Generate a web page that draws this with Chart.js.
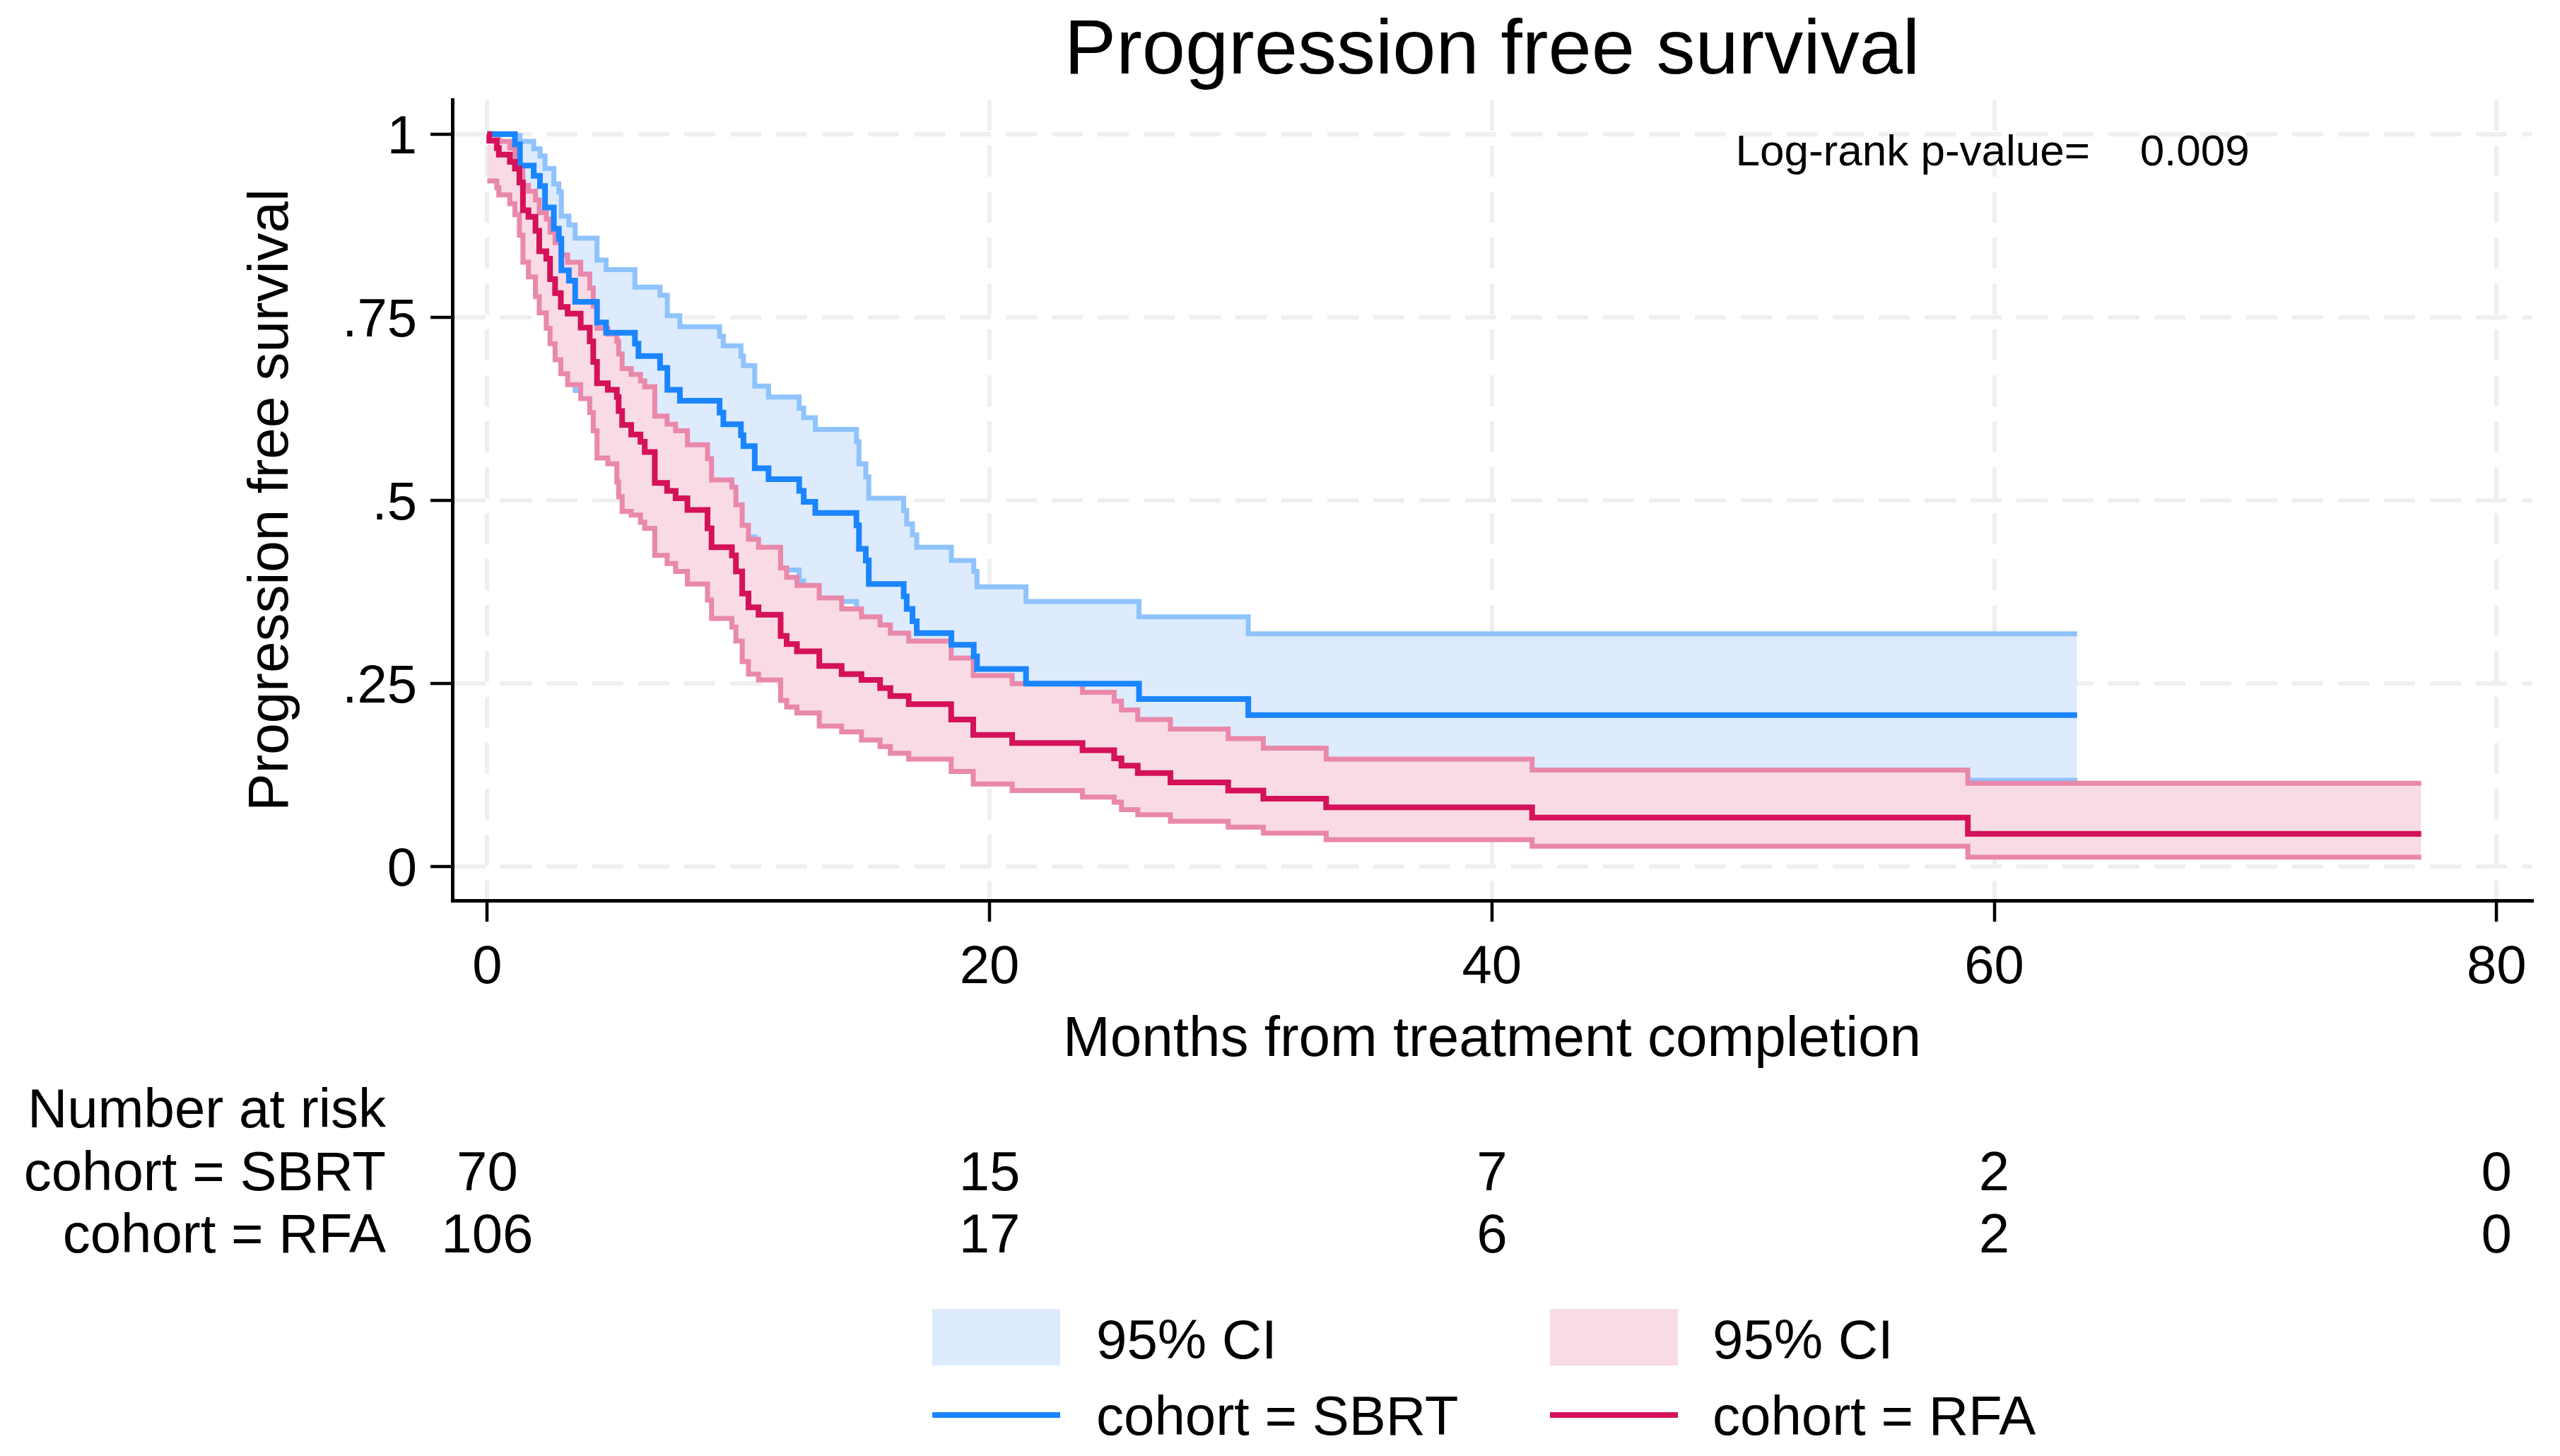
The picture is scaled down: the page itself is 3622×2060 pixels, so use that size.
<!DOCTYPE html>
<html>
<head>
<meta charset="utf-8">
<script src="https://cdn.jsdelivr.net/npm/chart.js@4.4.0/dist/chart.umd.min.js"></script>
<style>
html,body{margin:0;padding:0;background:#ffffff;}
#c{display:block;}
</style>
</head>
<body>
<canvas id="c" width="3622" height="2060" style="width:3622px;height:2060px"></canvas>
<script>
// ---------------- data ----------------
const sbrtTimes = [0, 1.1, 1.3, 1.85, 2.1, 2.3, 2.65, 2.85, 2.95, 3.25, 3.5, 4.37, 4.73, 5.88, 6.02, 6.88, 7.17, 7.67, 9.25, 9.4, 10.1, 10.2, 10.65, 11.2, 12.42, 12.6, 13.06, 14.7, 14.8, 15.07, 15.19, 16.58, 16.7, 16.93, 17.1, 18.48, 19.37, 19.5, 21.45, 25.95, 30.3, 63.3];
const sbrtSurv  = [1, 0.986, 0.957, 0.943, 0.929, 0.900, 0.871, 0.857, 0.814, 0.800, 0.771, 0.743, 0.729, 0.714, 0.697, 0.681, 0.651, 0.636, 0.620, 0.604, 0.589, 0.574, 0.544, 0.529, 0.513, 0.498, 0.483, 0.466, 0.434, 0.418, 0.386, 0.369, 0.352, 0.335, 0.319, 0.303, 0.287, 0.270, 0.250, 0.229, 0.207, 0.207];
const sbrtUpper = [1, 0.998, 0.990, 0.980, 0.970, 0.953, 0.932, 0.921, 0.888, 0.876, 0.858, 0.828, 0.815, 0.791, 0.791, 0.780, 0.752, 0.737, 0.724, 0.711, 0.697, 0.684, 0.656, 0.641, 0.626, 0.613, 0.597, 0.580, 0.550, 0.532, 0.503, 0.486, 0.468, 0.453, 0.436, 0.418, 0.403, 0.382, 0.362, 0.341, 0.318, 0.318];
const sbrtLower = [1, 0.90, 0.87, 0.85, 0.83, 0.80, 0.76, 0.745, 0.70, 0.68, 0.65, 0.62, 0.605, 0.59, 0.57, 0.555, 0.525, 0.51, 0.495, 0.48, 0.465, 0.45, 0.42, 0.405, 0.39, 0.375, 0.362, 0.345, 0.315, 0.30, 0.27, 0.255, 0.24, 0.225, 0.21, 0.196, 0.18, 0.165, 0.15, 0.134, 0.118, 0.118];

const rfaTimes = [0, 0.08, 0.38, 0.46, 0.9, 1.1, 1.28, 1.42, 1.64, 1.92, 2.07, 2.35, 2.5, 2.7, 2.93, 3.2, 3.72, 4.08, 4.22, 4.37, 4.8, 5.16, 5.23, 5.37, 5.73, 6.1, 6.27, 6.67, 7.16, 7.5, 7.97, 8.77, 8.93, 9.74, 9.9, 10.15, 10.4, 10.8, 11.68, 11.92, 12.33, 13.22, 14.11, 14.9, 15.64, 16.05, 16.78, 18.47, 19.35, 20.9, 23.7, 24.96, 25.25, 25.9, 27.2, 29.5, 30.9, 33.4, 41.6, 58.95, 77.0];
const rfaSurv  = [1, 0.991, 0.981, 0.972, 0.962, 0.953, 0.934, 0.896, 0.887, 0.868, 0.840, 0.830, 0.802, 0.783, 0.764, 0.755, 0.736, 0.717, 0.689, 0.660, 0.651, 0.641, 0.622, 0.603, 0.590, 0.580, 0.566, 0.524, 0.513, 0.503, 0.487, 0.462, 0.436, 0.425, 0.403, 0.373, 0.354, 0.344, 0.315, 0.304, 0.294, 0.274, 0.263, 0.255, 0.244, 0.233, 0.222, 0.201, 0.180, 0.169, 0.159, 0.148, 0.138, 0.128, 0.115, 0.104, 0.093, 0.081, 0.067, 0.045, 0.045];
const rfaUpper = [1, 0.999, 0.995, 0.990, 0.981, 0.969, 0.955, 0.930, 0.922, 0.910, 0.893, 0.884, 0.866, 0.852, 0.835, 0.825, 0.809, 0.790, 0.765, 0.735, 0.727, 0.717, 0.700, 0.680, 0.672, 0.663, 0.655, 0.615, 0.604, 0.595, 0.576, 0.557, 0.528, 0.518, 0.494, 0.466, 0.447, 0.436, 0.408, 0.395, 0.384, 0.367, 0.352, 0.341, 0.330, 0.319, 0.308, 0.285, 0.261, 0.250, 0.238, 0.226, 0.214, 0.201, 0.188, 0.175, 0.162, 0.147, 0.132, 0.114, 0.114];
const rfaLower = [0.936, 0.936, 0.927, 0.917, 0.905, 0.890, 0.862, 0.825, 0.805, 0.778, 0.756, 0.735, 0.714, 0.692, 0.673, 0.658, 0.639, 0.620, 0.595, 0.558, 0.550, 0.525, 0.505, 0.485, 0.480, 0.470, 0.462, 0.425, 0.414, 0.403, 0.386, 0.364, 0.339, 0.327, 0.308, 0.280, 0.263, 0.255, 0.227, 0.218, 0.210, 0.192, 0.184, 0.173, 0.164, 0.155, 0.147, 0.130, 0.113, 0.104, 0.095, 0.088, 0.078, 0.071, 0.062, 0.054, 0.046, 0.037, 0.028, 0.013, 0.013];

const xTicks = [0, 20, 40, 60, 80];
const yTicks = [0, 0.25, 0.5, 0.75, 1];
const yTickLabels = ['0', '.25', '.5', '.75', '1'];

const riskTimes = [0, 20, 40, 60, 80];
const riskSBRT = [70, 15, 7, 2, 0];
const riskRFA = [106, 17, 6, 2, 0];

const seriesNames = ['cohort = SBRT', 'cohort = RFA'];
const pValueText = ['Log-rank p-value=', '0.009'];

// ---------------- styling ----------------
const FONT = '"Liberation Sans", Arial, Helvetica, sans-serif';
const C_SBRT = '#1A85FF', C_SBRT_CI = '#8FC3FD', C_SBRT_FILL = '#DDEBFD';
const C_RFA = '#D41159', C_RFA_CI = '#E988AB', C_RFA_FILL = '#F8DBE5';

const pts = (t, v) => t.map((x, i) => ({x: x, y: v[i]}));

const baseLine = {stepped: true, pointRadius: 0, pointHoverRadius: 0, tension: 0, borderJoinStyle: 'miter', borderCapStyle: 'butt', fill: false};

const datasets = [
  Object.assign({}, baseLine, {label: 'cohort = RFA', data: pts(rfaTimes, rfaSurv), borderColor: C_RFA, borderWidth: 8, order: 0}),
  Object.assign({}, baseLine, {label: 'cohort = SBRT', data: pts(sbrtTimes, sbrtSurv), borderColor: C_SBRT, borderWidth: 8, order: 1}),
  Object.assign({}, baseLine, {label: 'RFA upper', data: pts(rfaTimes, rfaUpper), borderColor: C_RFA_CI, borderWidth: 7, order: 2}),
  Object.assign({}, baseLine, {label: 'RFA lower', data: pts(rfaTimes, rfaLower), borderColor: C_RFA_CI, borderWidth: 7, order: 3, fill: 2, backgroundColor: C_RFA_FILL}),
  Object.assign({}, baseLine, {label: 'SBRT upper', data: pts(sbrtTimes, sbrtUpper), borderColor: C_SBRT_CI, borderWidth: 7, order: 4}),
  Object.assign({}, baseLine, {label: 'SBRT lower', data: pts(sbrtTimes, sbrtLower), borderColor: C_SBRT_CI, borderWidth: 7, order: 5, fill: 4, backgroundColor: C_SBRT_FILL})
];

const extras = {
  id: 'extras',
  afterDraw(chart) {
    const {ctx, chartArea: ca, scales: {x, y}} = chart;
    ctx.save();
    ctx.fillStyle = '#000';
    ctx.textBaseline = 'alphabetic';

    // p-value annotation
    ctx.font = '62px ' + FONT;
    ctx.textAlign = 'left';
    ctx.fillText(pValueText[0], x.getPixelForValue(49.7), y.getPixelForValue(0.957));
    ctx.fillText(pValueText[1], x.getPixelForValue(65.8), y.getPixelForValue(0.957));

    // number at risk table
    ctx.font = '78px ' + FONT;
    const labRight = ca.left - 94;
    ctx.textAlign = 'right';
    ctx.fillText('Number at risk', labRight, 1595);
    ctx.fillText(seriesNames[0], labRight, 1684);
    ctx.fillText(seriesNames[1], labRight, 1772);
    ctx.textAlign = 'center';
    riskTimes.forEach((t, i) => {
      const px = x.getPixelForValue(t);
      ctx.fillText(String(riskSBRT[i]), px, 1684);
      ctx.fillText(String(riskRFA[i]), px, 1772);
    });

    // legend
    const cx = (ca.left + ca.right) / 2;
    const col1 = cx - 792, col2 = cx + 82, sw = 181;
    ctx.fillStyle = C_SBRT_FILL; ctx.fillRect(col1, 1852, sw, 80);
    ctx.fillStyle = C_RFA_FILL; ctx.fillRect(col2, 1852, sw, 80);
    ctx.fillStyle = C_SBRT; ctx.fillRect(col1, 1998, sw, 8);
    ctx.fillStyle = C_RFA; ctx.fillRect(col2, 1998, sw, 8);
    ctx.fillStyle = '#000';
    ctx.font = '78px ' + FONT;
    ctx.textAlign = 'left';
    ctx.fillText('95% CI', col1 + 232, 1922);
    ctx.fillText('95% CI', col2 + 230, 1922);
    ctx.fillText(seriesNames[0], col1 + 232, 2030);
    ctx.fillText(seriesNames[1], col2 + 230, 2030);
    ctx.restore();
  }
};

new Chart(document.getElementById('c'), {
  type: 'line',
  data: {datasets: datasets},
  plugins: [extras],
  options: {
    responsive: false,
    devicePixelRatio: 1,
    animation: false,
    events: [],
    layout: {padding: {top: 0, left: 0, right: 40, bottom: 540}},
    plugins: {
      legend: {display: false},
      tooltip: {enabled: false},
      title: {
        display: true,
        text: 'Progression free survival',
        fullSize: false,
        color: '#000',
        font: {family: FONT, size: 110, weight: 'normal', lineHeight: 1.15},
        padding: {top: 10, bottom: 4.5}
      }
    },
    scales: {
      x: {
        type: 'linear',
        position: 'bottom',
        min: -1.39,
        max: 81.4,
        afterBuildTicks: s => { s.ticks = xTicks.map(v => ({value: v})); },
        afterFit: s => { s.height = 246; },
        ticks: {
          color: '#000',
          font: {family: FONT, size: 76, lineHeight: 1.2},
          padding: 20,
          maxRotation: 0,
          autoSkip: false,
          callback: v => String(v)
        },
        grid: {color: '#EFEFEF', lineWidth: 6, drawTicks: true, tickLength: 30, tickColor: '#000', tickWidth: 4.5, tickBorderDash: []},
        border: {display: true, color: '#000', width: 5, dash: [44, 21]},
        title: {
          display: true,
          text: 'Months from treatment completion',
          color: '#000',
          font: {family: FONT, size: 80, lineHeight: 1.2},
          padding: {top: 0, bottom: 0}
        }
      },
      y: {
        type: 'linear',
        position: 'left',
        min: -0.046,
        max: 1.047,
        afterBuildTicks: s => { s.ticks = yTicks.map(v => ({value: v})); },
        afterFit: s => { s.width = 640; },
        ticks: {
          color: '#000',
          font: {family: FONT, size: 76, lineHeight: 1.2},
          padding: 19,
          labelOffset: 6,
          autoSkip: false,
          callback: v => { const i = yTicks.indexOf(v); return i >= 0 ? yTickLabels[i] : ''; }
        },
        grid: {color: '#EFEFEF', lineWidth: 6, drawTicks: true, tickLength: 31, tickColor: '#000', tickWidth: 4.5, tickBorderDash: []},
        border: {display: true, color: '#000', width: 5, dash: [44, 21]},
        title: {
          display: true,
          text: 'Progression free survival',
          color: '#000',
          font: {family: FONT, size: 80, lineHeight: 1.2},
          padding: {top: 337, bottom: 0}
        }
      }
    }
  }
});
</script>
</body>
</html>
